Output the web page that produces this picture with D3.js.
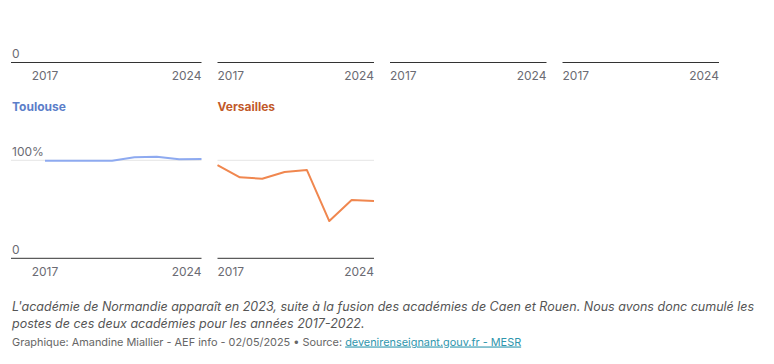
<!DOCTYPE html>
<html>
<head>
<meta charset="utf-8">
<script src="https://cdn.jsdelivr.net/npm/d3@7"></script>
<style>
  body { margin: 0; background: #fff; }
  svg { display: block; font-family: Inter, "Noto Sans", sans-serif; }
  .tick-label { fill: #6b6b73; font-size: 12px; }
  .note { fill: #555; font-size: 12.5px; font-style: italic; }
  .byline { fill: #666; font-size: 10.9px; }
</style>
</head>
<body>
<div id="chart"></div>
<script>
// years on the x axis
var years = [2017, 2018, 2019, 2020, 2021, 2022, 2023, 2024];
var xTickYears = [2017, 2024];
var yTicks = [0, 100];

// share of posts filled (%)
var toulouse = [99.5, 99.5, 99.5, 99.5, 103, 103.7, 101, 101.3];
var versailles = [95.2, 82.6, 81.2, 88, 90, 38, 59.5, 58.5];

// top row: only the bottom of these panels is in view, lines are above it
var topRow = ["", "", "", ""];
var bottomRow = ["Toulouse", "Versailles"];
var bottomValues = [toulouse, versailles];
var lineColors = ["#8eaaf0", "#f0874f"];
var titleColors = ["#5b7ec9", "#c25a2a"];

var W = 774, H = 364;
var svg = d3.select('#chart').append('svg')
    .attr('width', W)
    .attr('height', H);

var left = 11, gutter = 34, plotW = 156.5, gap = 16;
var baseY = [62.5, 258.3];
var pxPer100 = 98;

function colRange(c) {
    var x0 = left + gutter + c * (plotW + gap);
    return [x0, x0 + plotW];
}

function drawPanel(row, col, name, values, lineColor, titleColor) {
    var r = colRange(col);
    var x = d3.scaleLinear().domain([years[0], years[years.length - 1]]).range(r);
    var y = d3.scaleLinear().domain([0, 100]).range([baseY[row], baseY[row] - pxPer100]);
    var g = svg.append('g');
    var gridLeft = col === 0 ? left : r[0];

    // 100% gridline
    g.append('line')
        .attr('x1', gridLeft).attr('x2', r[1])
        .attr('y1', y(100)).attr('y2', y(100))
        .attr('stroke', '#e5e5e5').attr('stroke-width', 1);

    // y labels only in first column (skip the ones scrolled out of view)
    if (col === 0) {
        g.selectAll('.ylab').data(yTicks.filter(function(d) { return y(d) - 16 > 0; }))
            .enter().append('text')
            .attr('class', 'tick-label')
            .attr('x', left + 1)
            .attr('y', function(d) { return y(d) - 4.2; })
            .text(function(d) { return d === 0 ? '0' : d + '%'; });
    }

    if (name) {
        g.append('text')
            .attr('x', gridLeft + (col === 0 ? 1 : 0))
            .attr('y', baseY[row] - 147)
            .attr('fill', titleColor)
            .attr('font-size', 12)
            .attr('font-weight', 700)
            .text(name);
    }

    if (values.length) {
        var line = d3.line()
            .x(function(d, i) { return x(years[i]); })
            .y(function(d) { return y(d); });
        g.append('path')
            .datum(values)
            .attr('d', line)
            .attr('fill', 'none')
            .attr('stroke', lineColor)
            .attr('stroke-width', 2)
            .attr('stroke-linejoin', 'round');
    }

    // baseline
    g.append('line')
        .attr('x1', gridLeft).attr('x2', r[1])
        .attr('y1', y(0)).attr('y2', y(0))
        .attr('stroke', '#333').attr('stroke-width', 1);

    g.selectAll('.xlab').data(xTickYears).enter().append('text')
        .attr('class', 'tick-label')
        .attr('x', function(d) { return x(d); })
        .attr('y', y(0) + 17.5)
        .attr('text-anchor', function(d, i) {
            if (i > 0) return 'end';
            return col === 0 ? 'middle' : 'start';
        })
        .text(function(d) { return d; });
}

topRow.forEach(function(n, c) { drawPanel(0, c, n, [], null, null); });
bottomRow.forEach(function(n, c) {
    drawPanel(1, c, n, bottomValues[c], lineColors[c], titleColors[c]);
});

// notes
svg.append('text').attr('class', 'note').attr('x', 12).attr('y', 310.5)
    .text("L'académie de Normandie apparaît en 2023, suite à la fusion des académies de Caen et Rouen. Nous avons donc cumulé les");
svg.append('text').attr('class', 'note').attr('x', 12).attr('y', 327.5)
    .text("postes de ces deux académies pour les années 2017-2022.");

var by = svg.append('text').attr('class', 'byline').attr('x', 12).attr('y', 345.5);
by.append('tspan').text('Graphique: Amandine Miallier - AEF info - 02/05/2025 • Source: ');
by.append('tspan').attr('fill', '#2f96ad').attr('text-decoration', 'underline')
    .text('devenirenseignant.gouv.fr - MESR');
</script>
</body>
</html>
